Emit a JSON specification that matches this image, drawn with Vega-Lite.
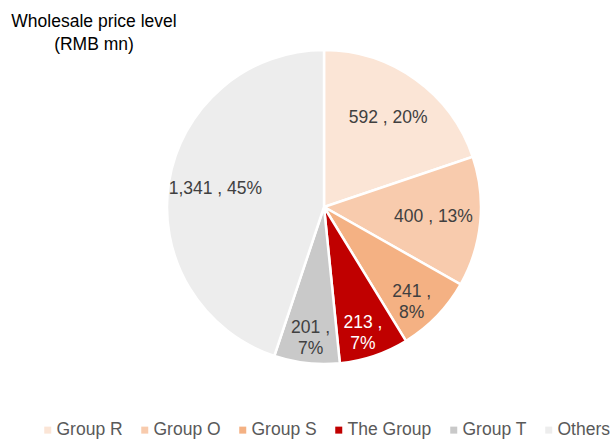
{
  "$schema": "https://vega.github.io/schema/vega-lite/v6.json",
  "width": 582,
  "height": 294,
  "autosize": {"type": "none"},
  "padding": {"left": 33, "top": 60, "right": 0, "bottom": 85},
  "background": "white",
  "config": {"view": {"stroke": null}},
  "title": {
    "text": ["Wholesale price level", "(RMB mn)"],
    "anchor": "start",
    "align": "center",
    "dx": 61,
    "fontSize": 17.5,
    "font": "Liberation Sans",
    "fontWeight": "normal",
    "color": "#000000",
    "lineHeight": 23,
    "offset": -8
  },
  "data": {
    "values": [
      {"group": "Group R", "value": 592, "label": "592 , 20%", "order": 1},
      {"group": "Group O", "value": 400, "label": "400 , 13%", "order": 2},
      {"group": "Group S", "value": 241, "label": "241 ,\n8%", "order": 3},
      {"group": "The Group", "value": 213, "label": "213 ,\n7%", "order": 4},
      {"group": "Group T", "value": 201, "label": "201 ,\n7%", "order": 5},
      {"group": "Others", "value": 1341, "label": "1,341 , 45%", "order": 6}
    ]
  },
  "encoding": {
    "theta": {"field": "value", "type": "quantitative", "stack": true},
    "order": {"field": "order", "type": "quantitative"}
  },
  "layer": [
    {
      "mark": {"type": "arc", "outerRadius": 157, "stroke": "white", "strokeWidth": 2.5},
      "encoding": {
        "color": {
          "field": "group",
          "type": "nominal",
          "sort": null,
          "scale": {
            "domain": ["Group R", "Group O", "Group S", "The Group", "Group T", "Others"],
            "range": ["#FBE5D6", "#F8CBAD", "#F4B183", "#C00000", "#C9C9C9", "#EDEDED"]
          },
          "legend": {
            "orient": "none",
            "legendX": 6,
            "legendY": 361,
            "direction": "horizontal",
            "columns": 6,
            "title": null,
            "symbolType": "square",
            "symbolSize": 49,
            "symbolStrokeWidth": 0,
            "labelFontSize": 17.5,
            "labelFont": "Liberation Sans",
            "labelColor": "#595959",
            "labelOffset": 0,
            "columnPadding": 13
          }
        }
      }
    },
    {
      "mark": {"type": "text", "radius": 110, "fontSize": 17.5, "font": "Liberation Sans", "baseline": "middle", "align": "center"},
      "encoding": {
        "text": {"condition": {"test": "indexof(datum.label, '\\n') < 0", "field": "label", "type": "nominal"}, "value": ""},
        "color": {"value": "#404040"}
      }
    },
    {
      "mark": {"type": "text", "radius": 122, "fontSize": 17.5, "font": "Liberation Sans", "baseline": "middle", "align": "center", "lineBreak": "\n", "lineHeight": 21},
      "encoding": {
        "text": {"condition": {"test": "indexof(datum.label, '\\n') >= 0", "field": "label", "type": "nominal"}, "value": ""},
        "color": {"condition": {"test": "datum.group === 'The Group'", "value": "#ffffff"}, "value": "#404040"}
      }
    }
  ]
}
